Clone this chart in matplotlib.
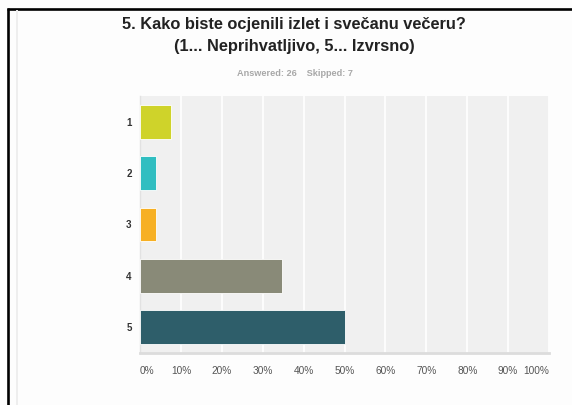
import matplotlib.pyplot as plt
from matplotlib.lines import Line2D

categories = ['1', '2', '3', '4', '5']
percent = [7.69, 3.85, 3.85, 34.62, 50.0]
colors = ['#cfd32a', '#30bec1', '#f7b023', '#898a78', '#2e5e6a']
tick_vals = [0, 10, 20, 30, 40, 50, 60, 70, 80, 90, 100]
tick_labels = [f'{v}%' for v in tick_vals]

plt.rcParams['font.family'] = ['Liberation Sans', 'DejaVu Sans']

fig = plt.figure(figsize=(5.72, 4.05), dpi=100)
fig.patch.set_facecolor('#fdfdfd')

W, H = 572, 405
ax = fig.add_axes([140 / W, (H - 353) / H, 409 / W, 257 / H])
ax.set_facecolor('#f0f0f0')

pos = list(range(1, len(categories) + 1))
ax.barh(pos, percent, height=0.66, color=colors, edgecolor='#ffffff',
        linewidth=0.6, zorder=3)

ax.set_xlim(0, 100)
ax.set_ylim(5.5, 0.5)
ax.set_yticks(pos)
ax.set_yticklabels(categories, fontsize=7, fontweight='bold', color='#333333')
ax.set_xticks(tick_vals)
ax.set_xticklabels(tick_labels, fontsize=7.3, color='#555555')
ax.tick_params(length=0)
ax.tick_params(axis='x', pad=9)
ax.tick_params(axis='y', pad=6)
xl = ax.get_xticklabels()
xl[0].set_horizontalalignment('left')
xl[-1].set_horizontalalignment('right')

ax.grid(axis='x', color='white', linewidth=1.2, zorder=1)
for s in ['top', 'right']:
    ax.spines[s].set_visible(False)
ax.spines['bottom'].set_color('#dcdcdc')
ax.spines['bottom'].set_linewidth(2.0)
ax.spines['left'].set_color('#e2e2e2')
ax.spines['left'].set_linewidth(1.0)

fig.text(294 / W, 1 - 29 / H, '5. Kako biste ocjenili izlet i svečanu večeru?',
         ha='center', va='baseline', fontsize=11.8, fontweight='bold', color='#222222')
fig.text(294 / W, 1 - 51 / H, '(1... Neprihvatljivo, 5... Izvrsno)',
         ha='center', va='baseline', fontsize=11.8, fontweight='bold', color='#222222')
fig.text(295 / W, 1 - 76 / H, 'Answered: 26    Skipped: 7',
         ha='center', va='baseline', fontsize=6.6, fontweight='bold', color='#a8a8a8')

# frame lines from the screenshot
fig.add_artist(Line2D([7 / W, 1], [1 - 9 / H, 1 - 9 / H], transform=fig.transFigure,
                      color='black', linewidth=1.9, solid_capstyle='butt'))
fig.add_artist(Line2D([8 / W, 8 / W], [1 - 8 / H, 0], transform=fig.transFigure,
                      color='black', linewidth=1.9, solid_capstyle='butt'))
fig.add_artist(Line2D([17 / W, 17 / W], [1 - 10 / H, 0], transform=fig.transFigure,
                      color='#eeeeee', linewidth=1.4, solid_capstyle='butt'))

fig.savefig('out.png', dpi=100, facecolor=fig.get_facecolor())
